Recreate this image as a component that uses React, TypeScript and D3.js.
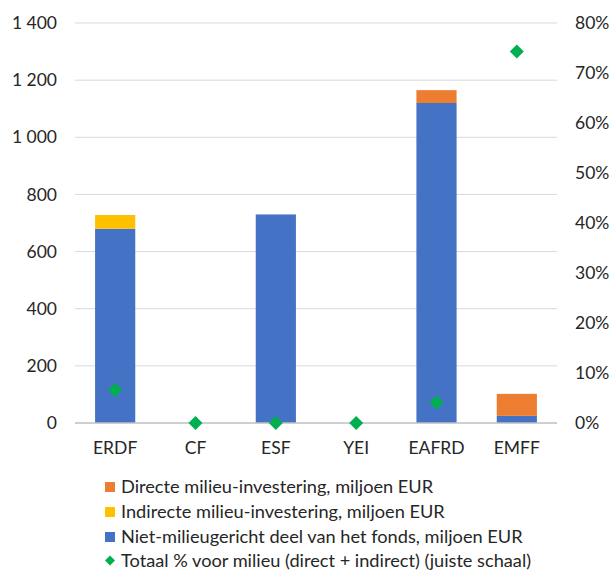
import React from "react";
import * as d3 from "d3";

const categories = ["ERDF", "CF", "ESF", "YEI", "EAFRD", "EMFF"];
const nonEnv = [680, 0, 730, 0, 1120, 25];
const indirect = [48, 0, 0, 0, 0, 0];
const direct = [0, 0, 0, 0, 45, 77];
const totalPct = [0.066, 0, 0, 0, 0.041, 0.743];
const leftTicks = [0, 200, 400, 600, 800, 1000, 1200, 1400];
const rightTicks = [0, 0.1, 0.2, 0.3, 0.4, 0.5, 0.6, 0.7, 0.8];
const legendLabels = [
  "Directe milieu-investering, miljoen EUR",
  "Indirecte milieu-investering, miljoen EUR",
  "Niet-milieugericht deel van het fonds, miljoen EUR",
  "Totaal % voor milieu (direct + indirect) (juiste schaal)",
];

const colors = { direct: "#ED7D31", indirect: "#FFC000", nonEnv: "#4472C4", pct: "#00B050" };
const font = "Lato, 'Open Sans', sans-serif";
const FS = 17.5;
const LFS = 18.2;

const diamondPath = (r: number) => `M0,${-r}L${r},0L0,${r}L${-r},0Z`;

export default function App() {
  const W = 611, H = 572;
  const x0 = 75, x1 = 557, yTop = 23, yBot = 423;
  const x = d3.scaleBand<string>().domain(categories).range([x0, x1]).paddingInner(0.5).paddingOuter(0.25);
  const y = d3.scaleLinear().domain([0, 1400]).range([yBot, yTop]);
  const yR = d3.scaleLinear().domain([0, 0.8]).range([yBot, yTop]);
  const fmt = (v: number) => d3.format(",")(v).replace(/,/g, " ");
  const pfmt = d3.format(".0%");
  const stackKeys = ["nonEnv", "indirect", "direct"];
  const rows = categories.map((c, i) => ({ cat: c, nonEnv: nonEnv[i], indirect: indirect[i], direct: direct[i] }));
  const series = d3.stack<any>().keys(stackKeys)(rows);
  const legendColors = [colors.direct, colors.indirect, colors.nonEnv];
  const legendY = [487, 512, 537, 560.5];
  return (
    <svg width={W} height={H} style={{ position: "absolute", left: 0, top: 0, fontFamily: font }}>
      <rect width={W} height={H} fill="#fff" />
      {leftTicks.map((t) => (
        <g key={t}>
          {t > 0 && <line x1={x0} x2={x1} y1={y(t)} y2={y(t)} stroke="#d9d9d9" strokeWidth={1} />}
          <text x={57} y={y(t)} dy="0.35em" textAnchor="end" fontSize={FS} fill="#262626">{fmt(t)}</text>
        </g>
      ))}
      {rightTicks.map((t) => (
        <text key={t} x={575} y={yR(t)} dy="0.35em" textAnchor="start" fontSize={FS} fill="#262626">{pfmt(t)}</text>
      ))}
      {series.map((s: any) => (
        <g key={s.key} fill={(colors as any)[s.key]}>
          {s.map((d: any, i: number) =>
            d[1] - d[0] > 0 ? (
              <rect key={i} x={x(categories[i])} width={x.bandwidth()} y={y(d[1])} height={y(d[0]) - y(d[1])} />
            ) : null
          )}
        </g>
      ))}
      <line x1={x0} x2={x1} y1={yBot} y2={yBot} stroke="#bfbfbf" strokeWidth={1.5} />
      {categories.map((c, i) => (
        <path key={c} d={diamondPath(7)} transform={`translate(${x(c)! + x.bandwidth() / 2},${yR(totalPct[i])})`} fill={colors.pct} />
      ))}
      {categories.map((c) => (
        <text key={c} x={x(c)! + x.bandwidth() / 2} y={448} dy="0.35em" textAnchor="middle" fontSize={FS} fill="#262626">{c}</text>
      ))}
      {legendLabels.map((l, i) => {
        const ly = legendY[i];
        return (
          <g key={l}>
            {i < 3 ? (
              <rect x={105} y={ly - 5} width={10} height={10} fill={legendColors[i]} />
            ) : (
              <path d={diamondPath(5)} transform={`translate(110,${ly})`} fill={colors.pct} />
            )}
            <text x={121} y={ly} dy="0.35em" fontSize={LFS} fill="#262626">{l}</text>
          </g>
        );
      })}
    </svg>
  );
}
